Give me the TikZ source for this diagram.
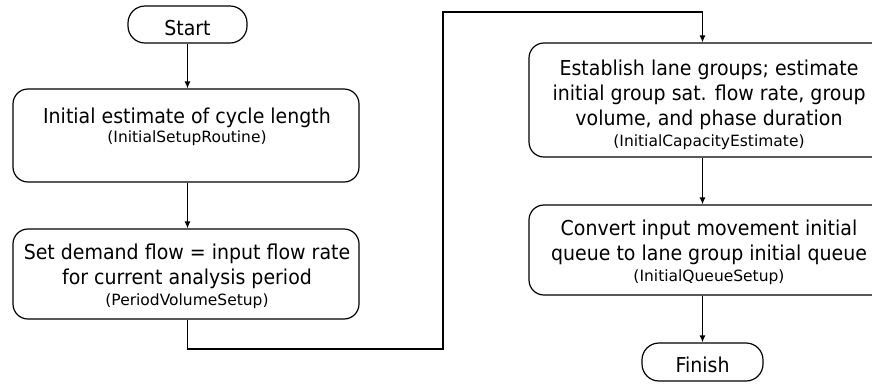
\documentclass[tikz,border=0pt]{standalone}
\usepackage{fontspec}
\setmainfont{DejaVu Sans}
\newfontfamily\bigfont{DejaVu Sans}[FakeStretch=0.925]
\newfontfamily\smallfont{DejaVu Sans}
\usetikzlibrary{arrows.meta}
\newcommand\sm[1]{{\smallfont\fontsize{15.5}{21}\selectfont #1}}
\tikzset{
  box/.style={draw, line width=1.2pt, rounded corners=15pt, inner sep=0pt},
  term/.style={draw, line width=1.2pt, rounded corners=17pt, inner sep=0pt,
    font=\bigfont\fontsize{20.5}{25}\selectfont, text height=21pt, text depth=0pt},
  txt/.style={align=center, inner sep=0pt, anchor=north,
    font=\bigfont\fontsize{20.5}{25}\selectfont},
  arr/.style={line width=1.2pt, -{Latex[length=7pt,width=6pt]}}
}
\begin{document}
\begin{tikzpicture}[x=1pt,y=-1pt]
\useasboundingbox (0,0) rectangle (872,384);
\clip (0,0) rectangle (872,384);
\node[term, minimum width=119pt, minimum height=37pt] (start) at (187.5,24.5) {Start};
\node[box, minimum width=346pt, minimum height=93pt] (b1) at (186,135.5) {};
\node[txt] (t1) at (187,107.4) {Initial estimate of cycle length\\[-6pt]\sm{(InitialSetupRoutine)}};
\node[box, minimum width=346pt, minimum height=90pt] (b2) at (186,274) {};
\node[txt] (t2) at (187,244.1) {Set demand flow = input flow rate\\for current analysis period\\[-4pt]\sm{(PeriodVolumeSetup)}};
\node[box, minimum width=360pt, minimum height=114pt] (b3) at (709,100) {};
\node[txt] (t3) at (709,59.4) {Establish lane groups; estimate\\initial group sat. flow rate, group\\volume, and phase duration\\[-3.3pt]\sm{(InitialCapacityEstimate)}};
\node[box, minimum width=360pt, minimum height=90pt] (b4) at (709,250) {};
\node[txt] (t4) at (709,219.4) {Convert input movement initial\\queue to lane group initial queue\\[-3.3pt]\sm{(InitialQueueSetup)}};
\node[term, minimum width=121pt, minimum height=38pt] (fin) at (702.5,362) {Finish};
\coordinate (k1) at (443,349);
\coordinate (k2) at (443,12);
\draw[arr] (start) -- (start |- b1.north);
\draw[arr] (b1.south -| start) -- (b2.north -| start);
\draw[arr] (b2.south -| start) |- (k1) -- (k2) -| (b3.north -| fin);
\draw[arr] (b3.south -| fin) -- (b4.north -| fin);
\draw[arr] (b4.south -| fin) -- (fin);
\end{tikzpicture}
\end{document}
